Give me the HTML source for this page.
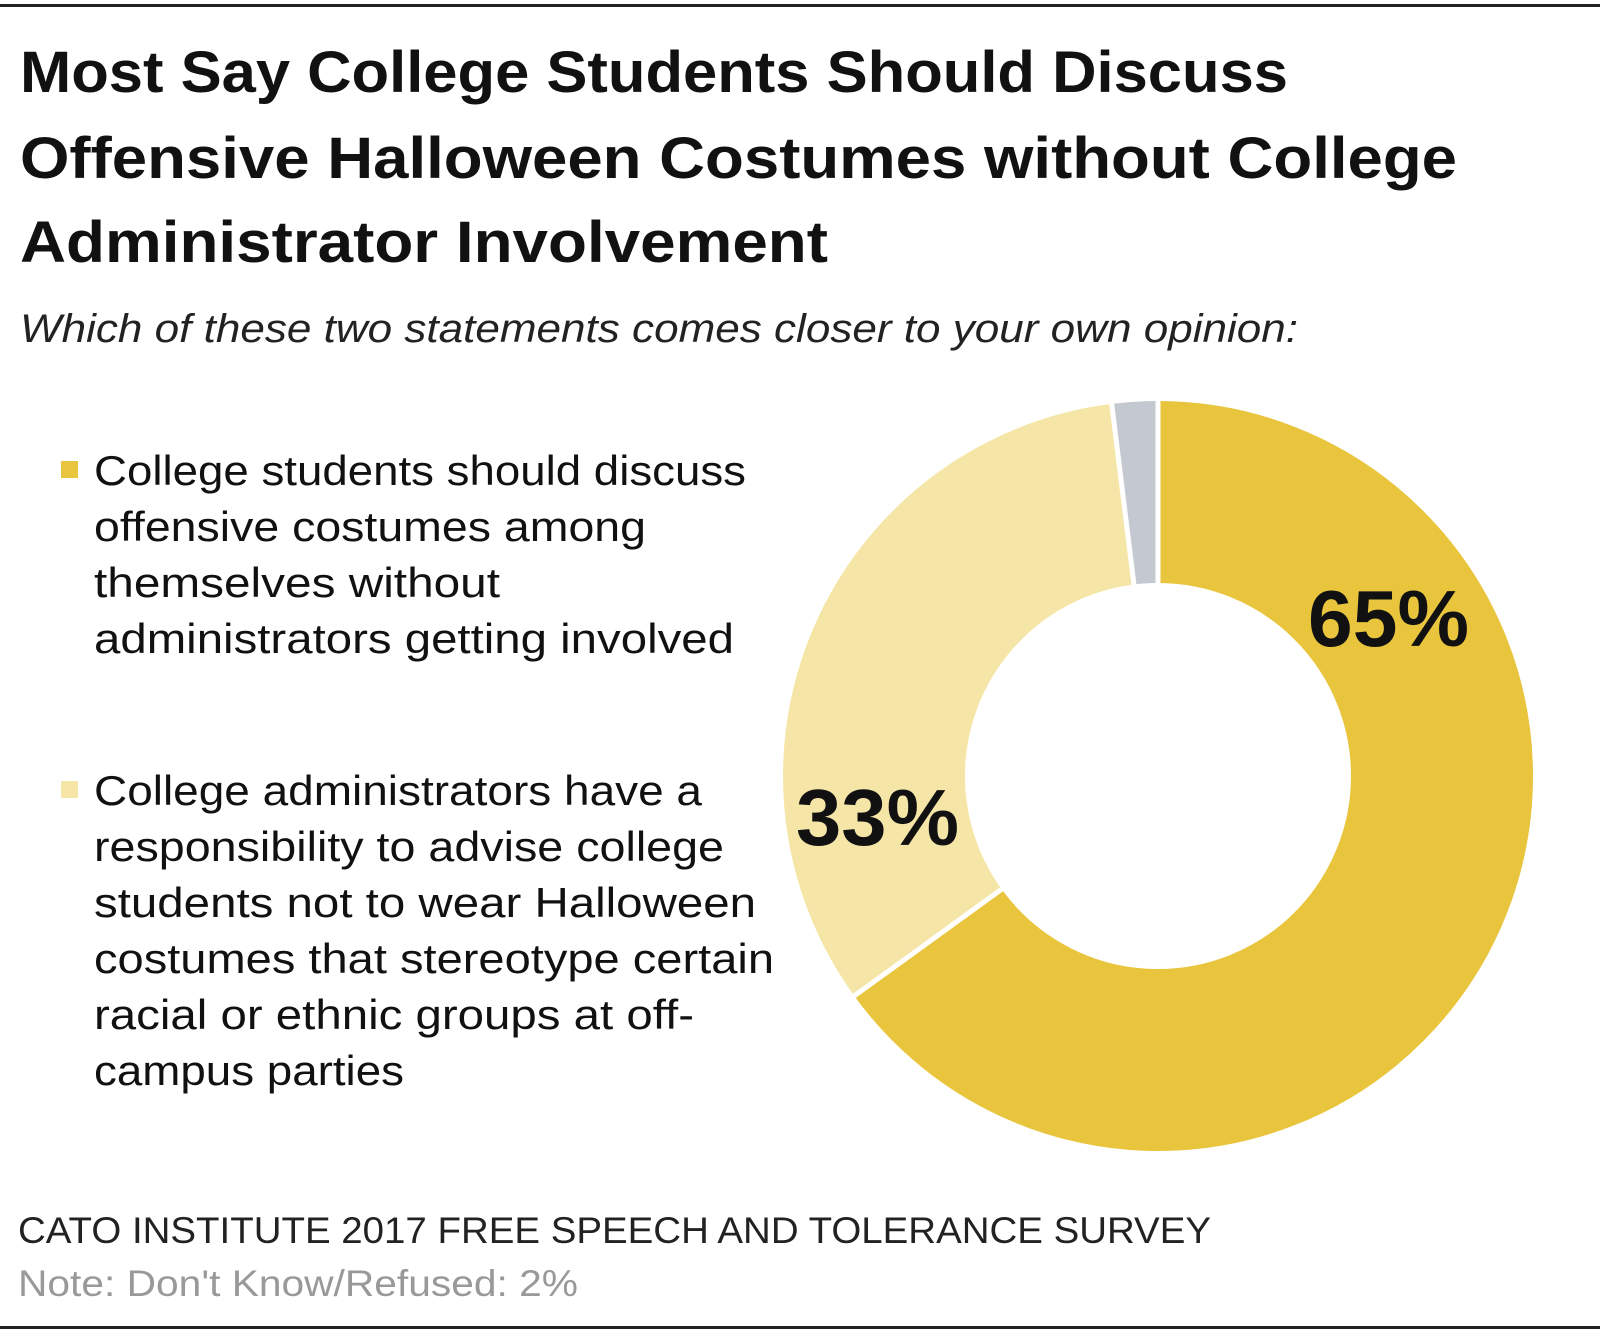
<!DOCTYPE html>
<html><head><meta charset="utf-8"><style>
html,body{margin:0;padding:0;background:#fff;}
svg{display:block;}
text{font-family:"Liberation Sans",sans-serif;}
</style></head><body>
<svg width="1600" height="1340" viewBox="0 0 1600 1340" xmlns="http://www.w3.org/2000/svg">
<rect x="0" y="4" width="1600" height="3" fill="#222"/>
<rect x="0" y="1326" width="1600" height="3" fill="#222"/>
<g font-weight="bold" font-size="58" fill="#111">
<text x="20" y="92" textLength="1268" lengthAdjust="spacingAndGlyphs">Most Say College Students Should Discuss</text>
<text x="20" y="178" textLength="1437" lengthAdjust="spacingAndGlyphs">Offensive Halloween Costumes without College</text>
<text x="20" y="262" textLength="808" lengthAdjust="spacingAndGlyphs">Administrator Involvement</text>
</g>
<text x="20" y="342" font-size="40" font-style="italic" fill="#222" textLength="1278" lengthAdjust="spacingAndGlyphs">Which of these two statements comes closer to your own opinion:</text>
<rect x="61" y="461" width="17" height="17" fill="#E9C53E"/>
<g font-size="42" fill="#111">
<text x="94" y="485" textLength="652" lengthAdjust="spacingAndGlyphs">College students should discuss</text>
<text x="94" y="541" textLength="552" lengthAdjust="spacingAndGlyphs">offensive costumes among</text>
<text x="94" y="597" textLength="406" lengthAdjust="spacingAndGlyphs">themselves without</text>
<text x="94" y="653" textLength="640" lengthAdjust="spacingAndGlyphs">administrators getting involved</text>
</g>
<rect x="61" y="781" width="17" height="17" fill="#F5E6A8"/>
<g font-size="42" fill="#111">
<text x="94" y="805" textLength="608" lengthAdjust="spacingAndGlyphs">College administrators have a</text>
<text x="94" y="861" textLength="630" lengthAdjust="spacingAndGlyphs">responsibility to advise college</text>
<text x="94" y="917" textLength="662" lengthAdjust="spacingAndGlyphs">students not to wear Halloween</text>
<text x="94" y="973" textLength="680" lengthAdjust="spacingAndGlyphs">costumes that stereotype certain</text>
<text x="94" y="1029" textLength="600" lengthAdjust="spacingAndGlyphs">racial or ethnic groups at off-</text>
<text x="94" y="1085" textLength="310" lengthAdjust="spacingAndGlyphs">campus parties</text>
</g>
<g transform="rotate(-90 1158 776)" fill="none" stroke-width="182">
<circle cx="1158" cy="776" r="284" stroke="#E9C53E" stroke-dasharray="1159.9 2000"/>
<circle cx="1158" cy="776" r="284" stroke="#F5E6A8" stroke-dasharray="0 1159.9 588.9 2000"/>
<circle cx="1158" cy="776" r="284" stroke="#C4C8D0" stroke-dasharray="0 1748.8 36 2000"/>
</g>
<g stroke="#fff" stroke-width="5">
<line x1="1158" y1="583" x2="1158" y2="395"/>
<line x1="1002" y1="889" x2="850" y2="999"/>
<line x1="1134" y1="585" x2="1111" y2="398"/>
</g>
<g font-weight="bold" font-size="80" fill="#111">
<text x="1308" y="646" textLength="161" lengthAdjust="spacingAndGlyphs">65%</text>
<text x="796" y="845" textLength="163" lengthAdjust="spacingAndGlyphs">33%</text>
</g>
<text x="18" y="1243" font-size="37" fill="#222" textLength="1193" lengthAdjust="spacingAndGlyphs">CATO INSTITUTE 2017 FREE SPEECH AND TOLERANCE SURVEY</text>
<text x="18" y="1296" font-size="37" fill="#999" textLength="560" lengthAdjust="spacingAndGlyphs">Note: Don't Know/Refused: 2%</text>
</svg>
</body></html>
